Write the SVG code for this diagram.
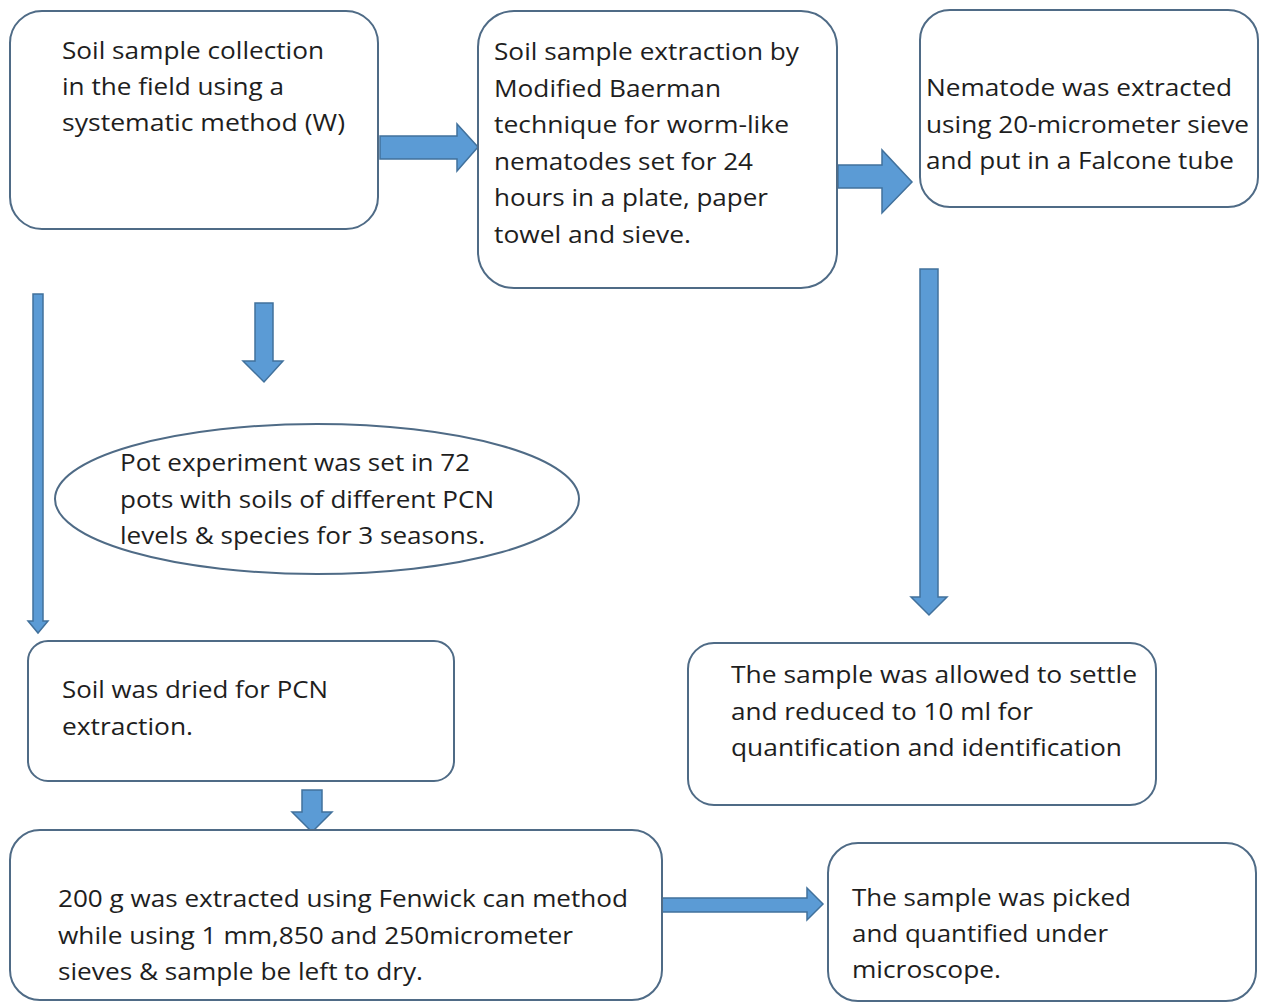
<svg xmlns="http://www.w3.org/2000/svg" width="1261" height="1003" viewBox="0 0 1261 1003">
<style>
.box{fill:#fff;stroke:#4f6b86;stroke-width:2}
.arr{fill:#5b9bd5;stroke:#41719c;stroke-width:1.5}
text{font-family:"Open Sans","Noto Sans",sans-serif;font-size:24px;fill:#1e1e1e}
</style>
<rect width="1261" height="1003" fill="#fff"/>
<g id="connectors">
<polygon class="arr" points="380,136 457,136 457,124 478,147 457,171 457,159 380,159"/>
<polygon class="arr" points="838,165 882,165 882,150 912,182 882,213 882,188 838,188"/>
<polygon class="arr" points="255,303 273,303 273,361 283,361 264,382 243,361 255,361"/>
<polygon class="arr" points="33,294 43,294 43,621 48,621 38,633 28,621 33,621"/>
<polygon class="arr" points="920,269 938,269 938,597 947,597 929,615 911,597 920,597"/>
<polygon class="arr" points="302,790 322,790 322,812 332,812 312,832 292,812 302,812"/>
<polygon class="arr" points="658,898 807,898 807,888 823,904 807,920 807,912 658,912"/>
</g>
<g id="n1">
<rect class="box" x="10" y="11" width="368" height="218" rx="32"/>
<text x="62" y="59" textLength="262" lengthAdjust="spacingAndGlyphs">Soil sample collection</text>
<text x="62" y="95" textLength="222" lengthAdjust="spacingAndGlyphs">in the field using a</text>
<text x="62" y="131" textLength="283" lengthAdjust="spacingAndGlyphs">systematic method (W)</text>
</g>
<g id="n2">
<rect class="box" x="478" y="11" width="359" height="277" rx="36"/>
<text x="494" y="60" textLength="305" lengthAdjust="spacingAndGlyphs">Soil sample extraction by</text>
<text x="494" y="97" textLength="227" lengthAdjust="spacingAndGlyphs">Modified Baerman</text>
<text x="494" y="133" textLength="295" lengthAdjust="spacingAndGlyphs">technique for worm-like</text>
<text x="494" y="170" textLength="259" lengthAdjust="spacingAndGlyphs">nematodes set for 24</text>
<text x="494" y="206" textLength="274" lengthAdjust="spacingAndGlyphs">hours in a plate, paper</text>
<text x="494" y="243" textLength="197" lengthAdjust="spacingAndGlyphs">towel and sieve.</text>
</g>
<g id="n3">
<rect class="box" x="920" y="10" width="338" height="197" rx="30"/>
<text x="926" y="96" textLength="306" lengthAdjust="spacingAndGlyphs">Nematode was extracted</text>
<text x="926" y="133" textLength="323" lengthAdjust="spacingAndGlyphs">using 20-micrometer sieve</text>
<text x="926" y="169" textLength="308" lengthAdjust="spacingAndGlyphs">and put in a Falcone tube</text>
</g>
<g id="n4">
<ellipse class="box" cx="317" cy="499" rx="262" ry="75"/>
<text x="120" y="471" textLength="350" lengthAdjust="spacingAndGlyphs">Pot experiment was set in 72</text>
<text x="120" y="508" textLength="374" lengthAdjust="spacingAndGlyphs">pots with soils of different PCN</text>
<text x="120" y="544" textLength="365" lengthAdjust="spacingAndGlyphs">levels &amp; species for 3 seasons.</text>
</g>
<g id="n5">
<rect class="box" x="28" y="641" width="426" height="140" rx="20"/>
<text x="62" y="698" textLength="266" lengthAdjust="spacingAndGlyphs">Soil was dried for PCN</text>
<text x="62" y="735" textLength="131" lengthAdjust="spacingAndGlyphs">extraction.</text>
</g>
<g id="n6">
<rect class="box" x="688" y="643" width="468" height="162" rx="26"/>
<text x="731" y="683" textLength="406" lengthAdjust="spacingAndGlyphs">The sample was allowed to settle</text>
<text x="731" y="720" textLength="302" lengthAdjust="spacingAndGlyphs">and reduced to 10 ml for</text>
<text x="731" y="756" textLength="391" lengthAdjust="spacingAndGlyphs">quantification and identification</text>
</g>
<g id="n7">
<rect class="box" x="10" y="830" width="652" height="170" rx="30"/>
<text x="58" y="907" textLength="570" lengthAdjust="spacingAndGlyphs">200 g was extracted using Fenwick can method</text>
<text x="58" y="944" textLength="515" lengthAdjust="spacingAndGlyphs">while using 1 mm,850 and 250micrometer</text>
<text x="58" y="980" textLength="365" lengthAdjust="spacingAndGlyphs">sieves &amp; sample be left to dry.</text>
</g>
<g id="n8">
<rect class="box" x="828" y="843" width="428" height="158" rx="30"/>
<text x="852" y="906" textLength="279" lengthAdjust="spacingAndGlyphs">The sample was picked</text>
<text x="852" y="942" textLength="256" lengthAdjust="spacingAndGlyphs">and quantified under</text>
<text x="852" y="978" textLength="149" lengthAdjust="spacingAndGlyphs">microscope.</text>
</g>
</svg>
